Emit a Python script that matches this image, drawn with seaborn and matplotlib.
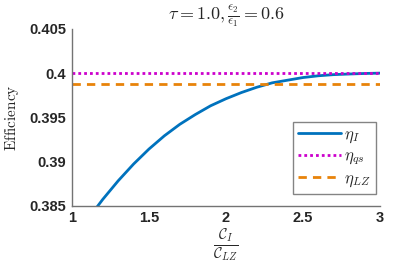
import matplotlib
matplotlib.use('Agg')
import matplotlib.pyplot as plt
import seaborn as sns
import pandas as pd

# data
ratio = [1.0, 1.1, 1.2, 1.3, 1.4, 1.5, 1.6, 1.7, 1.8, 1.9, 2.0,
         2.1, 2.2, 2.3, 2.4, 2.5, 2.6, 2.7, 2.8, 2.9, 3.0]
eta_I = [0.3810, 0.3834, 0.3857, 0.3878, 0.3897, 0.3914, 0.3929, 0.3942,
         0.3953, 0.3963, 0.3971, 0.3978, 0.3984, 0.3989, 0.3992, 0.3995,
         0.3997, 0.39983, 0.3999, 0.39996, 0.4000]
eta_qs = 0.4
eta_LZ = 0.39875

df = pd.DataFrame({'ratio': ratio, 'eta_I': eta_I})
df['eta_qs'] = eta_qs
df['eta_LZ'] = eta_LZ

sns.set_theme(style='white')
plt.rcParams['mathtext.fontset'] = 'cm'
plt.rcParams['font.family'] = ['Liberation Sans', 'DejaVu Sans']

fig = plt.figure(figsize=(4.2, 2.67), dpi=100)
ax = fig.add_axes([0.1714, 0.2303, 0.7334, 0.6611])

sns.lineplot(data=df, x='ratio', y='eta_I', ax=ax, color='#0072BD', lw=2.0,
             label=r'$\eta_I$')
sns.lineplot(data=df, x='ratio', y='eta_qs', ax=ax, color='#CC00CC', lw=2.0,
             ls=(0, (1, 1.1)), label=r'$\eta_{qs}$')
sns.lineplot(data=df, x='ratio', y='eta_LZ', ax=ax, color='#E8830A', lw=2.0,
             ls=(0, (3, 2.2)), label=r'$\eta_{LZ}$')

ax.set_xlim(1, 3)
ax.set_ylim(0.385, 0.405)
ax.set_xticks([1, 1.5, 2, 2.5, 3])
ax.set_xticklabels(['1', '1.5', '2', '2.5', '3'])
ax.set_yticks([0.385, 0.39, 0.395, 0.4, 0.405])
ax.set_yticklabels(['0.385', '0.39', '0.395', '0.4', '0.405'])
ax.tick_params(direction='in', length=3, width=0.8, color='0.4',
               labelsize=10.5, pad=4)
for lab in ax.get_xticklabels() + ax.get_yticklabels():
    lab.set_fontweight('bold')
    lab.set_color('0.15')

for s in ['top', 'right']:
    ax.spines[s].set_visible(False)
for s in ['left', 'bottom']:
    ax.spines[s].set_color('0.45')
    ax.spines[s].set_linewidth(1.0)

ax.set_title(r'$\tau = 1.0, \frac{\epsilon_2}{\epsilon_1} = 0.6$', fontsize=13, pad=7)
ax.set_xlabel(r'$\frac{\mathcal{C}_I}{\mathcal{C}_{LZ}}$', fontsize=15, labelpad=1)
ax.set_ylabel(r'$\mathrm{Efficiency}$', fontsize=11, labelpad=6)

leg = ax.legend(loc='lower right', bbox_to_anchor=(0.987, 0.065), fontsize=12,
                frameon=True, fancybox=False, handlelength=2.6,
                borderpad=0.3, labelspacing=0.2, handletextpad=0.2,
                borderaxespad=0)
leg.get_frame().set_edgecolor('0.4')
leg.get_frame().set_linewidth(1.0)

fig.savefig('out.png', dpi=100)
